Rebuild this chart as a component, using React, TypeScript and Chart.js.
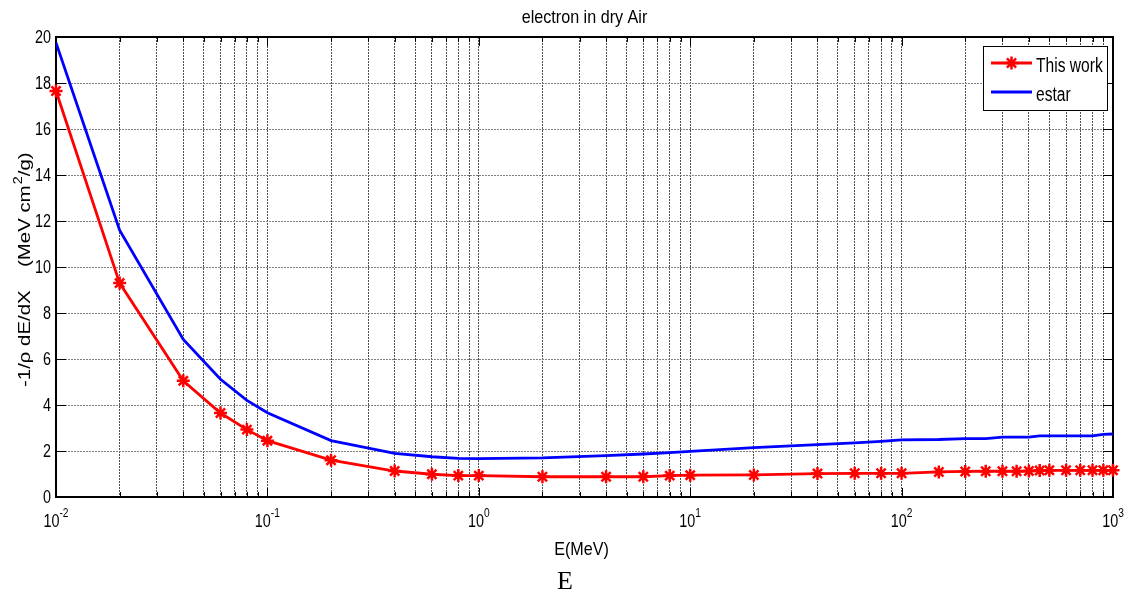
import React, { useEffect, useRef } from 'react';
import { Chart, registerables } from 'chart.js';

Chart.register(...registerables);

// ---- data ----
const energies = [0.01, 0.02, 0.04, 0.06, 0.08, 0.1, 0.2, 0.4, 0.6, 0.8, 1, 2, 4, 6, 8, 10, 20, 40, 60, 80, 100, 150, 200, 250, 300, 350, 400, 450, 500, 600, 700, 800, 900, 1000];
const thisWork = [17.65, 9.3, 5.05, 3.65, 2.93, 2.45, 1.6, 1.13, 0.99, 0.93, 0.93, 0.88, 0.88, 0.88, 0.93, 0.95, 0.96, 1.02, 1.03, 1.03, 1.03, 1.09, 1.11, 1.12, 1.12, 1.12, 1.13, 1.15, 1.16, 1.16, 1.16, 1.16, 1.16, 1.16];
const estar = [19.75, 11.6, 6.85, 5.12, 4.2, 3.66, 2.45, 1.9, 1.75, 1.68, 1.67, 1.7, 1.8, 1.87, 1.93, 1.98, 2.15, 2.28, 2.35, 2.42, 2.48, 2.5, 2.54, 2.54, 2.6, 2.6, 2.6, 2.66, 2.66, 2.66, 2.66, 2.66, 2.72, 2.74];
const seriesNames = ['This work', 'estar'];
const yTickValues = [0, 2, 4, 6, 8, 10, 12, 14, 16, 18, 20];
const xDecadeExponents = [-2, -1, 0, 1, 2, 3];
const xMinorMultipliers = [1, 2, 3, 4, 5, 6, 7, 8, 9];
const titleText = 'electron in dry Air';
const xTitleText = 'E(MeV)';
const captionText = 'E';
const yTitleParts = ['-1/\u03c1 dE/dX', '(MeV cm', '2', '/g)'];

const xGridValues: number[] = [];
xDecadeExponents.forEach((e, i) => {
  if (i === xDecadeExponents.length - 1) {
    xGridValues.push(Math.pow(10, e));
  } else {
    xMinorMultipliers.forEach((m) => xGridValues.push(Number((m * Math.pow(10, e)).toPrecision(6))));
  }
});

function txt(ctx: CanvasRenderingContext2D, s: string, x: number, y: number, font: string, align: CanvasTextAlign, sx: number, baseline: CanvasTextBaseline = 'alphabetic') {
  ctx.save();
  ctx.translate(x, y);
  ctx.scale(sx, 1);
  ctx.font = font;
  ctx.textAlign = align;
  ctx.textBaseline = baseline;
  ctx.fillStyle = '#000';
  ctx.fillText(s, 0, 0);
  ctx.restore();
}

function measure(ctx: CanvasRenderingContext2D, s: string, font: string, sx: number) {
  ctx.save();
  ctx.font = font;
  const w = ctx.measureText(s).width * sx;
  ctx.restore();
  return w;
}

function drawStar(ctx: CanvasRenderingContext2D, x: number, y: number, r: number) {
  ctx.beginPath();
  ctx.moveTo(x - r, y);
  ctx.lineTo(x + r, y);
  ctx.moveTo(x, y - r);
  ctx.lineTo(x, y + r);
  const d = r * Math.SQRT1_2;
  ctx.moveTo(x - d, y - d);
  ctx.lineTo(x + d, y + d);
  ctx.moveTo(x - d, y + d);
  ctx.lineTo(x + d, y - d);
  ctx.stroke();
}

const FONT = '"Liberation Sans", Arial, sans-serif';

const decorPlugin = {
  id: 'decor',
  beforeDatasetsDraw(chart: any) {
    const ctx: CanvasRenderingContext2D = chart.ctx;
    const { left, right, top, bottom } = chart.chartArea;
    const xs = chart.scales.x;
    const ys = chart.scales.y;
    ctx.save();
    ctx.strokeStyle = '#000';
    ctx.lineWidth = 1;
    ctx.beginPath();
    xGridValues.forEach((v) => {
      const px = Math.round(xs.getPixelForValue(v)) + 0.5;
      const major = Math.abs(Math.log10(v) - Math.round(Math.log10(v))) < 1e-9;
      const len = major ? 9 : 5;
      ctx.moveTo(px, bottom);
      ctx.lineTo(px, bottom - len);
      ctx.moveTo(px, top);
      ctx.lineTo(px, top + len);
    });
    yTickValues.forEach((v) => {
      const py = Math.round(ys.getPixelForValue(v)) + 0.5;
      ctx.moveTo(left, py);
      ctx.lineTo(left + 10, py);
      ctx.moveTo(right, py);
      ctx.lineTo(right - 10, py);
    });
    ctx.stroke();
    ctx.lineWidth = 2;
    ctx.strokeRect(left, top, right - left, bottom - top);
    ctx.restore();
  },
  afterDraw(chart: any) {
    const ctx: CanvasRenderingContext2D = chart.ctx;
    const { left, right, bottom } = chart.chartArea;
    const xs = chart.scales.x;
    const ys = chart.scales.y;
    const tickFont = `18px ${FONT}`;
    const expFont = `12px ${FONT}`;
    const sx = 0.8;
    // y tick labels
    yTickValues.forEach((v) => {
      txt(ctx, String(v), left - 5, ys.getPixelForValue(v) + 1, tickFont, 'right', sx, 'middle');
    });
    // x tick labels 10^n
    xDecadeExponents.forEach((e) => {
      const px = xs.getPixelForValue(Math.pow(10, e));
      const base = '10';
      const ex = String(e);
      const wb = measure(ctx, base, tickFont, sx);
      const we = measure(ctx, ex, expFont, 0.85);
      const start = px - (wb + we) / 2;
      txt(ctx, base, start, bottom + 30, tickFont, 'left', sx);
      txt(ctx, ex, start + wb, bottom + 20, expFont, 'left', 0.85);
    });
    // title
    txt(ctx, titleText, (left + right) / 2, 23, `19px ${FONT}`, 'center', 0.85);
    // x title
    txt(ctx, xTitleText, (left + right) / 2 - 3, 555, `19px ${FONT}`, 'center', 0.85);
    // caption
    txt(ctx, captionText, 565, 589, '26px "Liberation Serif", "Times New Roman", serif', 'center', 1);
    // y title (rotated)
    ctx.save();
    ctx.translate(30, 387);
    ctx.rotate(-Math.PI / 2);
    ctx.scale(1.2, 1);
    ctx.fillStyle = '#000';
    ctx.textAlign = 'left';
    ctx.textBaseline = 'alphabetic';
    const yf = `17px ${FONT}`;
    const ysf = `12px ${FONT}`;
    ctx.font = yf;
    ctx.fillText(yTitleParts[0], 0, 0);
    let pos = 120 / 1.2;
    ctx.fillText(yTitleParts[1], pos, 0);
    pos += ctx.measureText(yTitleParts[1]).width + 1;
    ctx.font = ysf;
    ctx.fillText(yTitleParts[2], pos, -8);
    pos += ctx.measureText(yTitleParts[2]).width;
    ctx.font = yf;
    ctx.fillText(yTitleParts[3], pos, 0);
    ctx.restore();
    // legend
    ctx.save();
    ctx.fillStyle = '#fff';
    ctx.fillRect(983, 46, 124, 64);
    ctx.strokeStyle = '#000';
    ctx.lineWidth = 1;
    ctx.strokeRect(983.5, 46.5, 124, 64);
    ctx.lineWidth = 2.8;
    ctx.strokeStyle = '#ff0000';
    ctx.beginPath();
    ctx.moveTo(991, 63);
    ctx.lineTo(1032, 63);
    ctx.stroke();
    ctx.lineWidth = 2.5;
    drawStar(ctx, 1011.5, 63, 6.5);
    ctx.lineWidth = 2.8;
    ctx.strokeStyle = '#0000ff';
    ctx.beginPath();
    ctx.moveTo(991, 92);
    ctx.lineTo(1032, 92);
    ctx.stroke();
    ctx.restore();
    txt(ctx, seriesNames[0], 1036, 72, `20px ${FONT}`, 'left', 0.78);
    txt(ctx, seriesNames[1], 1036, 101, `20px ${FONT}`, 'left', 0.78);
  },
};

export default function App() {
  const ref = useRef<HTMLCanvasElement | null>(null);
  useEffect(() => {
    if (!ref.current) return;
    const chart = new Chart(ref.current, {
      type: 'line',
      data: {
        datasets: [
          {
            label: seriesNames[0],
            data: energies.map((e, i) => ({ x: e, y: thisWork[i] })),
            borderColor: '#ff0000',
            backgroundColor: '#ff0000',
            borderWidth: 2.8,
            pointStyle: 'star',
            pointRadius: 6.5,
            pointBorderWidth: 2.5,
            pointBorderColor: '#ff0000',
            tension: 0,
            clip: false as any,
          },
          {
            label: seriesNames[1],
            data: energies.map((e, i) => ({ x: e, y: estar[i] })),
            borderColor: '#0000ff',
            backgroundColor: '#0000ff',
            borderWidth: 2.8,
            pointRadius: 0,
            tension: 0,
          },
        ],
      },
      options: {
        animation: false,
        responsive: false,
        devicePixelRatio: 1,
        layout: { padding: { left: 0, right: 14, top: 37, bottom: 0 } },
        plugins: { legend: { display: false }, title: { display: false }, tooltip: { enabled: false } },
        scales: {
          x: {
            type: 'logarithmic',
            min: 0.01,
            max: 1000,
            afterBuildTicks: (scale: any) => {
              scale.ticks = xGridValues.map((v) => ({ value: v }));
            },
            afterFit: (scale: any) => {
              scale.height = 100;
            },
            ticks: { display: false },
            grid: { color: '#505050', lineWidth: 1, drawTicks: false },
            border: { display: false, dash: [2, 1] },
          },
          y: {
            type: 'linear',
            min: 0,
            max: 20,
            ticks: { display: false, stepSize: 2 },
            afterFit: (scale: any) => {
              scale.width = 56;
            },
            grid: { color: '#808080', lineWidth: 1, drawTicks: false },
            border: { display: false, dash: [2, 1] },
          },
        },
      } as any,
      plugins: [decorPlugin],
    });
    return () => chart.destroy();
  }, []);
  return (
    <div style={{ position: 'fixed', left: 0, top: 0, width: 1127, height: 597, background: '#fff' }}>
      <canvas ref={ref} width={1127} height={597} style={{ width: 1127, height: 597, display: 'block' }} />
    </div>
  );
}
